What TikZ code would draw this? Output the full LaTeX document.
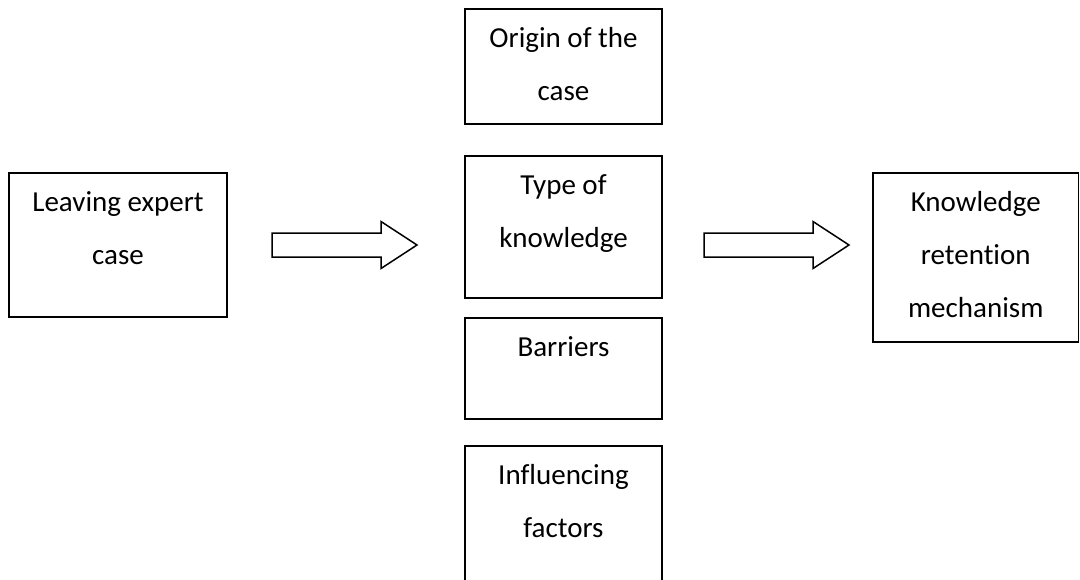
\documentclass[tikz,border=0pt]{standalone}
\usepackage{fontspec}
\setmainfont{Carlito}[Ligatures={NoCommon}]
\usetikzlibrary{calc}

% Fixed-size text block: first baseline 38pt below the top, lines 53pt apart
\newcommand{\boxlines}[3]{\parbox[c][#2][t]{#1}{\centering\rule{0pt}{38pt}#3}}

\tikzset{
  stage/.style={draw, line width=1.5pt, inner sep=0pt, outer sep=0pt,
    anchor=north west, font=\fontsize{29}{53}\selectfont},
  blockarrow/.style={draw, line width=1.5pt, line join=miter, fill=white}
}

\begin{document}
\begin{tikzpicture}[x=1pt, y=-1pt]
  \useasboundingbox (0,0) rectangle (1080,579);
  \clip (0,0) rectangle (1080,579);

  % Left input box
  \node[stage] (leave) at (9,173) {\boxlines{218pt}{144pt}{Leaving expert\\case}};

  % Middle column of aspects
  \node[stage] (origin) at (465,9)   {\boxlines{197pt}{115pt}{Origin of the\\case}};
  \node[stage] (type)   at (465,156) {\boxlines{197pt}{142pt}{Type of\\knowledge}};
  \node[stage] (barr)   at (465,318) {\boxlines{197pt}{101pt}{Barriers}};
  \node[stage] (infl)   at (465,446) {\boxlines{197pt}{160pt}{Influencing\\factors}};

  % Right output box
  \node[stage] (kr) at (873,173) {\boxlines{205.5pt}{169pt}{Knowledge\\retention\\mechanism}};

  % Block arrow end points
  \coordinate (a1s) at ($(leave.east)+(45,0)$);
  \coordinate (a1e) at ($(a1s -| type.west)+(-48,0)$);
  \coordinate (a2s) at ($(a1s -| type.east)+(42,0)$);
  \coordinate (a2e) at ($(a1s -| kr.west)+(-24,0)$);

  \draw[blockarrow] ($(a1s)+(0,-12)$) -- ($(a1e)+(-36,-12)$) -- ($(a1e)+(-36,-23.5)$)
    -- (a1e) -- ($(a1e)+(-36,23.5)$) -- ($(a1e)+(-36,12)$) -- ($(a1s)+(0,12)$) -- cycle;
  \draw[blockarrow] ($(a2s)+(0,-12)$) -- ($(a2e)+(-36,-12)$) -- ($(a2e)+(-36,-23.5)$)
    -- (a2e) -- ($(a2e)+(-36,23.5)$) -- ($(a2e)+(-36,12)$) -- ($(a2s)+(0,12)$) -- cycle;
\end{tikzpicture}
\end{document}
